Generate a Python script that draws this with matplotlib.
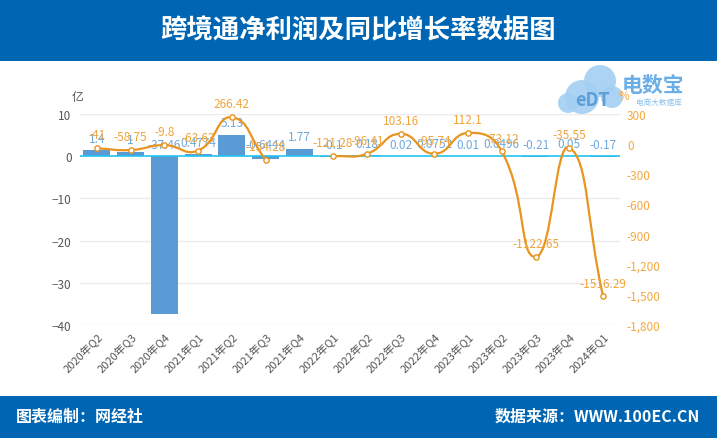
import matplotlib
matplotlib.use("Agg")
import matplotlib.pyplot as plt
import numpy as np
from matplotlib.path import Path
from matplotlib.patches import PathPatch, Rectangle, Ellipse
from matplotlib.ticker import FuncFormatter

plt.rcParams['font.family'] = ['Noto Sans CJK SC', 'DejaVu Sans']

categories = ['2020年Q2', '2020年Q3', '2020年Q4', '2021年Q1', '2021年Q2', '2021年Q3',
              '2021年Q4', '2022年Q1', '2022年Q2', '2022年Q3', '2022年Q4', '2023年Q1',
              '2023年Q2', '2023年Q3', '2023年Q4', '2024年Q1']
profit = [1.4, 1, -37.46, 0.4774, 5.13, -0.6444, 1.77, -0.1, 0.18, 0.02, 0.0752,
          0.01, 0.0496, -0.21, 0.05, -0.17]
profit_labels = ['1.4', '1', '-37.46', '0.4774', '5.13', '-0.6444', '1.77', '-0.1', '0.18',
                 '0.02', '0.0752', '0.01', '0.0496', '-0.21', '0.05', '-0.17']
growth = [-41, -58.75, -9.8, -63.63, 266.42, -154.28, None, -121.28, -96.41, 103.16,
          -95.74, 112.1, -73.12, -1122.65, -35.55, -1516.29]
growth_labels = ['-41', '-58.75', '-9.8', '-63.63', '266.42', '-154.28', '', '-121.28', '-96.41',
                 '103.16', '-95.74', '112.1', '-73.12', '-1122.65', '-35.55', '-1516.29']

W, H = 717, 439
fig = plt.figure(figsize=(W / 100, H / 100), dpi=100)
fig.patch.set_facecolor('white')

BLUE = '#0066b3'
BAR = '#5b9bd5'
LINE = '#e8941e'
LINE_TXT = '#f0a43a'
BAR_TXT = '#6fa8dc'

# header & footer bands
fig.patches.append(Rectangle((0, 1 - 62 / H), 1, 62 / H, transform=fig.transFigure,
                             facecolor=BLUE, edgecolor='none', zorder=0))
fig.patches.append(Rectangle((0, 0), 1, 42 / H, transform=fig.transFigure,
                             facecolor=BLUE, edgecolor='none', zorder=0))
fig.text(0.5, 1 - 31 / H, '跨境通净利润及同比增长率数据图', color='white', fontsize=19,
         fontweight='bold', ha='center', va='center')
fig.text(16 / W, 22 / H, '图表编制：网经社', color='white', fontsize=11.5,
         fontweight='bold', ha='left', va='center')
fig.text(700 / W, 22 / H, '数据来源：WWW.100EC.CN', color='white', fontsize=11.5,
         fontweight='bold', ha='right', va='center')

# logo approximation
def fx(x): return x / W
def fy(y): return 1 - y / H
for (cx, cy, r) in [(582, 98, 17), (600, 82, 16), (568, 104, 10), (612, 98, 11)]:
    fig.patches.append(Ellipse((fx(cx), fy(cy)), 2 * r / W, 2 * r / H, transform=fig.transFigure,
                               facecolor='#a3cff2', edgecolor='none', alpha=0.9, zorder=1))
fig.text(fx(592), fy(101), 'eDT', color='#5a9fd8', fontsize=13, fontweight='bold',
         ha='center', va='center', zorder=2)
fig.text(fx(622), fy(86), '电数宝', color='#6aaee8', fontsize=15, fontweight='bold',
         ha='left', va='center', zorder=2)
fig.text(fx(636), fy(103), '电商大数据库', color='#8cc0ec', fontsize=5.5,
         ha='left', va='center', zorder=2)

# axes
ax = fig.add_axes([80 / W, (H - 326) / H, 540 / W, 211 / H])
ax2 = ax.twinx()
n = len(categories)
x = np.arange(n)
ax.set_xlim(-0.5, n - 0.5)
ax.set_ylim(-40, 10)
ax2.set_ylim(-1800, 300)

for a in (ax, ax2):
    for s in a.spines.values():
        s.set_visible(False)
ax.set_zorder(1)
ax2.set_zorder(2)
ax.patch.set_visible(False)

ax.set_yticks([-40, -30, -20, -10, 0, 10])
for v in [-40, -30, -20, -10, 10]:
    ax.axhline(v, color='#ebebeb', lw=1, zorder=0)
ax.tick_params(axis='y', length=0, colors='#555555', labelsize=8.5, pad=6)
ax2.set_yticks(np.arange(-1800, 301, 300))
ax2.yaxis.set_major_formatter(FuncFormatter(lambda v, p: f'{int(v):,}'))
ax2.tick_params(axis='y', length=0, colors='#f5a840', labelsize=8.5, pad=5)

ax.set_xticks(x)
ax.set_xticklabels(categories, rotation=45, ha='right', rotation_mode='anchor',
                   fontsize=8, color='#555555')
ax.tick_params(axis='x', length=0, pad=4)

ax.bar(x, profit, width=0.8, color=BAR, zorder=2)
ax.axhline(0, color='#22c3f0', lw=1.2, zorder=3)

for i, (v, lab) in enumerate(zip(profit, profit_labels)):
    ax.annotate(lab, (i, max(v, 0)), xytext=(0, 4), textcoords='offset points',
                ha='center', va='bottom', color=BAR_TXT, fontsize=8.5, zorder=4)

# smoothed line (echarts-like bezier smoothing in display space)
fig.canvas.draw()
trans = ax2.transData
inv = trans.inverted()

def smooth_path(idx, vals, smooth=0.5):
    pts = trans.transform(np.column_stack([idx, vals]).astype(float))
    m = len(pts)
    verts = [pts[0]]
    codes = [Path.MOVETO]
    cps = []
    for k in range(m):
        prev = pts[k - 1] if k > 0 else pts[k]
        nxt = pts[k + 1] if k < m - 1 else pts[k]
        v = (nxt - prev) * smooth
        d0 = np.hypot(*(pts[k] - prev))
        d1 = np.hypot(*(pts[k] - nxt))
        s = d0 + d1
        if s > 0:
            d0 /= s
            d1 /= s
        cps.append((pts[k] - v * d0, pts[k] + v * d1))
    for k in range(m - 1):
        verts += [cps[k][1], cps[k + 1][0], pts[k + 1]]
        codes += [Path.CURVE4] * 3
    return Path(inv.transform(np.array(verts)), codes)

segments = []
cur = []
for i, g in enumerate(growth):
    if g is None:
        if cur:
            segments.append(cur)
        cur = []
    else:
        cur.append(i)
if cur:
    segments.append(cur)

for seg in segments:
    p = smooth_path(np.array(seg), np.array([growth[i] for i in seg], dtype=float))
    ax2.add_patch(PathPatch(p, facecolor='none', edgecolor=LINE, lw=1.6, zorder=3))

gx = [i for i, g in enumerate(growth) if g is not None]
gy = [growth[i] for i in gx]
ax2.plot(gx, gy, linestyle='none', marker='o', markersize=3.8, markerfacecolor='white',
         markeredgecolor=LINE, markeredgewidth=1.0, zorder=5)
for i in gx:
    ax2.annotate(growth_labels[i], (i, growth[i]), xytext=(0, 5), textcoords='offset points',
                 ha='center', va='bottom', color=LINE_TXT, fontsize=8.5, zorder=6)

fig.text(fx(78), fy(97), '亿', color='#555555', fontsize=8.5, ha='center', va='center')
fig.text(fx(624), fy(96), '%', color='#f5a840', fontsize=8.5, ha='center', va='center')

fig.savefig('out.png', dpi=100)
